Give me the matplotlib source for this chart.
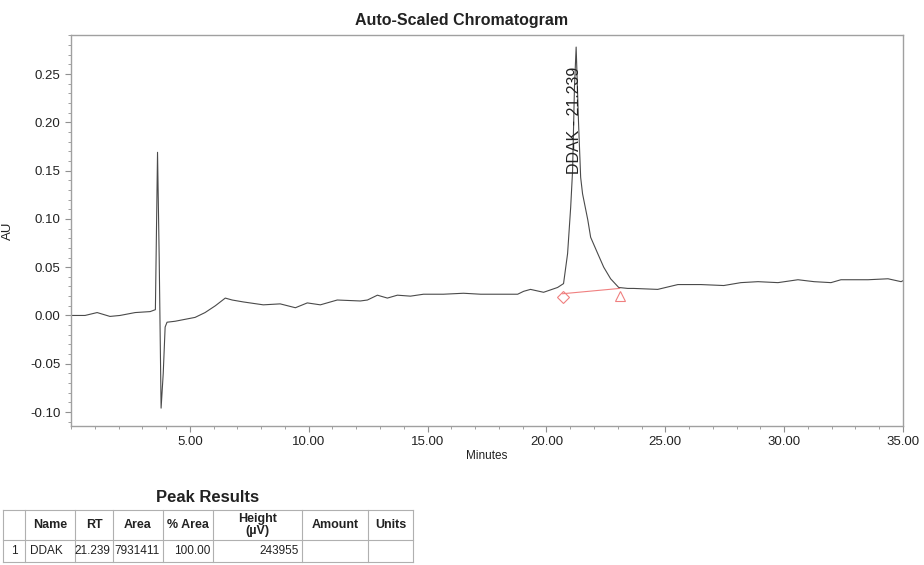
import matplotlib
matplotlib.use("Agg")
import matplotlib.pyplot as plt
from matplotlib.ticker import MultipleLocator, FormatStrFormatter
from matplotlib.lines import Line2D

plt.rcParams['font.family'] = ['Liberation Sans', 'DejaVu Sans']
plt.rcParams['axes.unicode_minus'] = False

# ---- chromatogram trace (minutes, AU) ----
time_min = [0.00, 0.59, 1.10, 1.64, 2.06, 2.70, 3.33, 3.55, 3.64, 3.71, 3.79,
            3.88, 3.96, 4.04, 4.38, 4.80, 5.22, 5.64, 6.07, 6.49, 6.78, 7.25,
            8.09, 8.80, 9.44, 9.94, 10.49, 11.20, 12.17, 12.47, 12.89, 13.31,
            13.73, 14.28, 14.83, 15.67, 16.51, 17.23, 17.94, 18.79, 19.04,
            19.33, 19.88, 20.47, 20.72, 20.89, 21.02, 21.10, 21.18, 21.25,
            21.35, 21.44, 21.52, 21.74, 21.86, 22.16, 22.41, 22.70, 23.04,
            23.42, 23.67, 24.68, 25.53, 26.50, 27.46, 28.18, 28.90, 29.74,
            30.58, 31.26, 31.97, 32.39, 33.53, 34.37, 34.92, 35.00]
au = [0.000, 0.000, 0.003, -0.001, 0.000, 0.003, 0.004, 0.006, 0.169, 0.060,
      -0.096, -0.060, -0.012, -0.007, -0.006, -0.004, -0.002, 0.003, 0.010,
      0.018, 0.016, 0.014, 0.011, 0.012, 0.008, 0.013, 0.011, 0.016, 0.015,
      0.016, 0.021, 0.018, 0.021, 0.020, 0.022, 0.022, 0.023, 0.022, 0.022,
      0.022, 0.025, 0.027, 0.024, 0.029, 0.033, 0.064, 0.112, 0.150, 0.237,
      0.278, 0.200, 0.143, 0.126, 0.099, 0.081, 0.064, 0.050, 0.038, 0.029,
      0.028, 0.028, 0.027, 0.032, 0.032, 0.031, 0.034, 0.035, 0.034, 0.037,
      0.035, 0.034, 0.037, 0.037, 0.038, 0.035, 0.036]

# integration baseline (start / end of peak)
base_t = [20.68, 23.08]
base_au = [0.0225, 0.028]
mark_au = [0.019, 0.0205]

peak_name = "DDAK"
peak_rt = 21.239

# ---- peak results table ----
col_labels = ["", "Name", "RT", "Area", "% Area", "Height\n(\u00b5V)", "Amount", "Units"]
row_values = ["1", "DDAK", "21.239", "7931411", "100.00", "243955", "", ""]
row_align = ["center", "left", "right", "right", "right", "right", "center", "center"]

W, H = 924, 565
fig = plt.figure(figsize=(W / 100, H / 100), dpi=100)
ax = fig.add_axes([71 / W, 1 - 426 / H, (903 - 71) / W, (426 - 35) / H])

ax.plot(time_min, au, color='#4a4a4a', lw=0.8)
ax.plot(base_t, base_au, color='#f08080', lw=0.8)
ax.plot(base_t[0], mark_au[0], marker='D', ms=6, mfc='none', mec='#f08080', mew=0.8)
ax.plot(base_t[1], mark_au[1], marker='^', ms=7, mfc='none', mec='#f08080', mew=0.8)

ax.text(21.20, 0.258, f"{peak_name} - {peak_rt:.3f}", rotation=90, ha='center',
        va='top', fontsize=11.5, color='#222222')

ax.set_xlim(0, 35)
ax.set_ylim(-0.1145, 0.2905)
ax.xaxis.set_major_locator(MultipleLocator(5))
ax.xaxis.set_minor_locator(MultipleLocator(1))
ax.yaxis.set_major_locator(MultipleLocator(0.05))
ax.yaxis.set_minor_locator(MultipleLocator(0.01))
ax.xaxis.set_major_formatter(FormatStrFormatter('%.2f'))
ax.yaxis.set_major_formatter(FormatStrFormatter('%.2f'))
ax.set_xticks([5, 10, 15, 20, 25, 30, 35])
for s in ax.spines.values():
    s.set_color('#a0a0a0')
    s.set_linewidth(1.0)
ax.tick_params(which='major', length=4, width=0.8, color='#909090',
               labelsize=9.5, labelcolor='#222222')
ax.tick_params(which='minor', length=2.5, width=0.7, color='#a0a0a0')
ax.set_xlabel("Minutes", fontsize=8.5, color='#222222', labelpad=1)
ax.set_ylabel("AU", fontsize=9.5, color='#222222', labelpad=12)

fig.text(0.5, 1 - 20 / H, "Auto-Scaled Chromatogram", ha='center', va='center',
         fontsize=11.5, fontweight='bold', color='#222222')

# ---- table drawn in figure pixel coordinates ----
col_edges = [3, 25, 75, 113, 163, 213, 302, 368, 413]
row_edges = [510, 540, 562]


def fx(x):
    return x / W


def fy(y):
    return 1 - y / H


fig.text(fx(208), fy(497), "Peak Results", ha='center', va='center',
         fontsize=12, fontweight='bold', color='#222222')
lc = '#b0b0b0'
for y in row_edges:
    fig.add_artist(Line2D([fx(col_edges[0]), fx(col_edges[-1])], [fy(y), fy(y)],
                          color=lc, lw=0.8))
for x in col_edges:
    fig.add_artist(Line2D([fx(x), fx(x)], [fy(row_edges[0]), fy(row_edges[-1])],
                          color=lc, lw=0.8))
for i, lab in enumerate(col_labels):
    cx = (col_edges[i] + col_edges[i + 1]) / 2
    fig.text(fx(cx), fy(525), lab, ha='center', va='center', fontsize=9,
             fontweight='bold', color='#222222', linespacing=1.0)
for i, val in enumerate(row_values):
    if row_align[i] == 'left':
        x = col_edges[i] + 5
    elif row_align[i] == 'right':
        x = col_edges[i + 1] - 3
    else:
        x = (col_edges[i] + col_edges[i + 1]) / 2
    fig.text(fx(x), fy(551), val, ha=row_align[i], va='center', fontsize=8.5,
             color='#222222')

fig.savefig("out.png", dpi=100)
